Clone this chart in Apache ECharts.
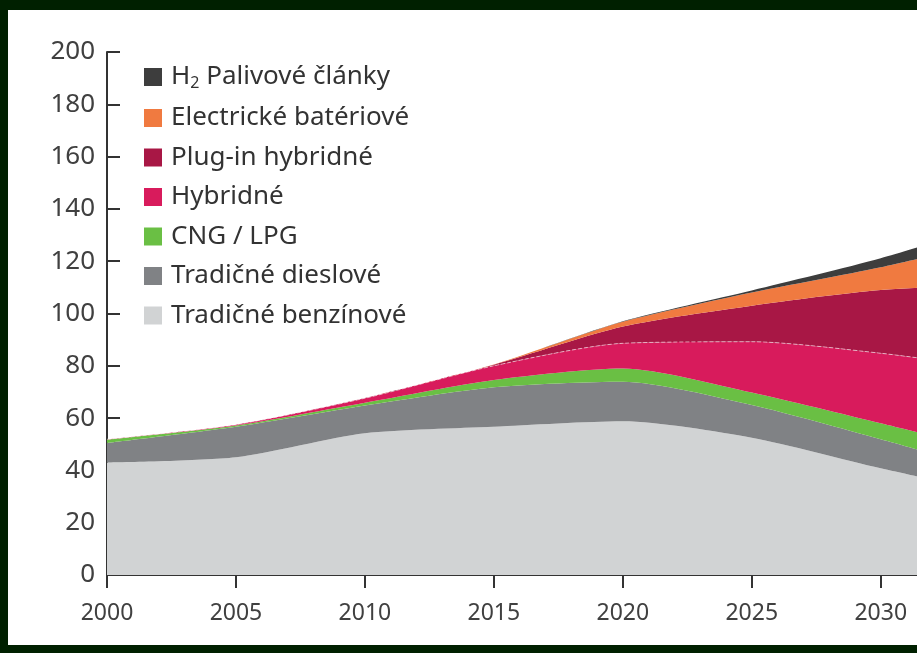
<!DOCTYPE html>
<html>
<head>
<meta charset="utf-8">
<script src="https://cdn.jsdelivr.net/npm/echarts@6/dist/echarts.min.js"></script>
<style>
  html, body { margin: 0; padding: 0; background: #002000; }
  body { width: 917px; height: 653px; position: relative; overflow: hidden; }
  /* graf je vpravo orezaný, preto je plátno širšie ako okno */
  #chart { position: absolute; left: 8px; top: 10px; width: 1031px; height: 635px; background: #fff; }
</style>
</head>
<body>
<div id="chart"></div>
<script>
// roky a hodnoty (odčítané z grafu), 2035 len kvôli orezanému okraju
const years = ['2000', '2005', '2010', '2015', '2020', '2025', '2030', '2035'];
const benzin   = [43.0, 45.0, 54.2, 56.7, 58.8, 52.5, 40.8, 29.9];
const diesel   = [7.5, 11.7, 10.6, 15.1, 15.1, 12.5, 11.1, 8.1];
const cngLpg   = [1.3, 0.5, 1.1, 2.8, 5.1, 4.8, 6.1, 7.8];
const hybrid   = [0.1, 0.3, 1.7, 5.4, 9.6, 19.4, 26.8, 32.5];
const plugIn   = [0, 0, 0.1, 0.4, 6.4, 13.8, 24.2, 32.7];
const electric = [0, 0, 0, 0.1, 1.8, 5.0, 8.7, 18.3];
const h2       = [0, 0, 0, 0, 0.2, 0.8, 3.4, 6.8];

const names = ['Tradičné benzínové', 'Tradičné dieslové', 'CNG / LPG', 'Hybridné',
  'Plug-in hybridné', 'Electrické batériové', 'H2 Palivové články'];
const colors = ['#d1d3d4', '#808285', '#6abf44', '#d81b5c', '#a81745', '#f07a40', '#3d3d3d'];
const values = [benzin, diesel, cngLpg, hybrid, plugIn, electric, h2];

const chart = echarts.init(document.getElementById('chart'));

const series = values.map((arr, i) => ({
  name: names[i],
  type: 'line',
  stack: 'total',
  smooth: 0.25,
  symbol: 'none',
  color: colors[i],
  lineStyle: i === 3
    ? { width: 1, type: 'dashed', color: 'rgba(255,255,255,0.55)' }
    : { width: 0 },
  areaStyle: { color: colors[i], opacity: 1 },
  data: arr
}));

chart.setOption({
  animation: false,
  grid: { left: 99, top: 42, bottom: 70, right: 10 },
  legend: {
    orient: 'vertical',
    left: 131,
    top: 49,
    icon: 'rect',
    itemWidth: 18,
    itemHeight: 18,
    itemGap: 13.5,
    selectedMode: false,
    data: names.slice().reverse(),
    formatter: n => n === 'H2 Palivové články' ? '{n|H}{s|2}{n| Palivové články}' : n,
    textStyle: {
      fontFamily: 'Noto Sans',
      fontSize: 26,
      color: '#333',
      padding: [0, 0, 0, 4],
      rich: {
        n: { fontFamily: 'Noto Sans', fontSize: 26, color: '#333' },
        s: { fontFamily: 'Noto Sans', fontSize: 16, color: '#333', padding: [13, 0, 0, 0] }
      }
    }
  },
  xAxis: {
    type: 'category',
    boundaryGap: false,
    data: years,
    splitLine: { show: false },
    axisLine: { lineStyle: { color: '#333', width: 2 } },
    axisTick: { length: 13, lineStyle: { color: '#333', width: 2 } },
    axisLabel: { margin: 27, fontFamily: 'Noto Sans', fontSize: 23, color: '#404040' }
  },
  yAxis: {
    type: 'value',
    min: 0,
    max: 200,
    interval: 20,
    splitLine: { show: false },
    axisLine: { show: true, lineStyle: { color: '#333', width: 2 } },
    axisTick: { show: true, inside: true, length: 13, lineStyle: { color: '#333', width: 2 } },
    axisLabel: { margin: 12, fontFamily: 'Noto Sans', fontSize: 26, color: '#404040' }
  },
  series: series
});
</script>
</body>
</html>
